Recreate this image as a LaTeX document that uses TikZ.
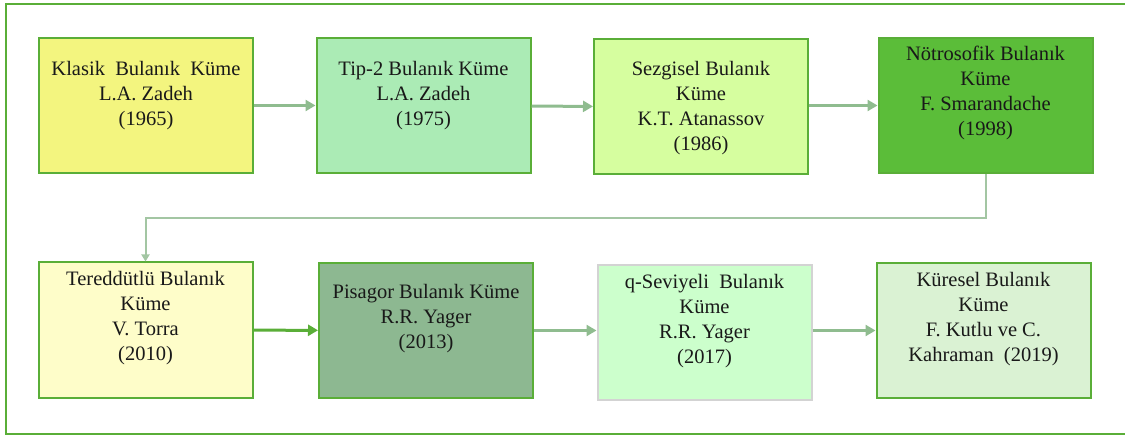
\documentclass[tikz,border=0pt]{standalone}
\usepackage{fontspec}
\setmainfont{Liberation Serif}
\usetikzlibrary{arrows.meta, positioning}
\definecolor{framegreen}{HTML}{5AAE38}
\definecolor{arrowgreen}{HTML}{8FBC8F}
\definecolor{linkgreen}{HTML}{A3C6A3}
\definecolor{klasikfill}{HTML}{F3F57F}
\definecolor{tipfill}{HTML}{ABEBB5}
\definecolor{sezgiselfill}{HTML}{D6FE9F}
\definecolor{notrofill}{HTML}{5BBD39}
\definecolor{tereddutfill}{HTML}{FEFDC9}
\definecolor{pisagorfill}{HTML}{8DB891}
\definecolor{qseviyefill}{HTML}{CCFFCC}
\definecolor{qseviyedraw}{HTML}{D3D3D3}
\definecolor{kureselfill}{HTML}{DAF2D3}
\tikzset{
    box/.style={rectangle, draw=framegreen, line width=2pt, minimum width=214pt, minimum height=135pt},
    txt/.style={align=center, inner sep=0pt, font=\fontsize{20.5}{25}\selectfont, text=black!90},
    arrow/.style={-{Triangle[length=10pt, width=11pt]}, line width=3pt, draw=arrowgreen},
    brightarrow/.style={arrow, draw=framegreen},
    linkarrow/.style={-{Triangle[length=7pt, width=8pt]}, line width=2pt, draw=linkgreen}
}
\begin{document}
\begin{tikzpicture}[x=1pt, y=-1pt]
    \useasboundingbox (0,0) rectangle (1125,438);
    \clip (0,0) rectangle (1125,438);
    \draw[framegreen, line width=2pt] (6,4) rectangle (1140,434);
    % first row
    \node[box, fill=klasikfill] (klasik) at (146,105.5) {};
    \node[box, fill=tipfill] (tip) at (423.5,105.5) {};
    \node[box, fill=sezgiselfill] (sezgisel) at (701,107) {};
    \node[box, fill=notrofill] (notro) at (985.5,105.5) {};
    \node[txt] (klasik-t) at (146,96) {Klasik\ \ Bulanık\ \ Küme\\L.A. Zadeh\\(1965)};
    \node[txt] (tip-t) at (423.5,96) {Tip-2 Bulanık Küme\\L.A. Zadeh\\(1975)};
    \node[txt] (sezgisel-t) at (701,108) {Sezgisel Bulanık\\Küme\\K.T. Atanassov\\(1986)};
    \node[txt] (notro-t) at (985.5,93) {Nötrosofik Bulanık\\Küme\\F. Smarandache\\(1998)};
    % second row
    \node[box, fill=tereddutfill] (tereddut) at (145.5,330) {};
    \node[box, fill=pisagorfill] (pisagor) at (426,330.5) {};
    \node[box, fill=qseviyefill, draw=qseviyedraw] (qseviye) at (704.5,332.5) {};
    \node[box, fill=kureselfill] (kuresel) at (983.5,330.5) {};
    \node[txt] (tereddut-t) at (145.5,318) {Tereddütlü Bulanık\\Küme\\V. Torra\\(2010)};
    \node[txt] (pisagor-t) at (426,319) {Pisagor Bulanık Küme\\R.R. Yager\\(2013)};
    \node[txt] (qseviye-t) at (704.5,321.5) {q-Seviyeli\ \ Bulanık\\Küme\\R.R. Yager\\(2017)};
    \node[txt] (kuresel-t) at (983.5,319) {Küresel Bulanık\\Küme\\F. Kutlu ve C.\\Kahraman\ \ (2019)};
    % connectors
    \draw[arrow] (klasik) -- (tip);
    \draw[arrow] (tip) -- (sezgisel);
    \draw[arrow] (sezgisel.east |- notro) -- (notro);
    \coordinate (turn) at (985.5,218);
    \draw[linkarrow] (notro.south) -- (turn) -| (tereddut.north);
    \draw[brightarrow] (tereddut) -- (pisagor);
    \draw[arrow] (pisagor) -- (pisagor -| qseviye.west);
    \draw[arrow] (qseviye.east |- kuresel) -- (kuresel);
\end{tikzpicture}
\end{document}
